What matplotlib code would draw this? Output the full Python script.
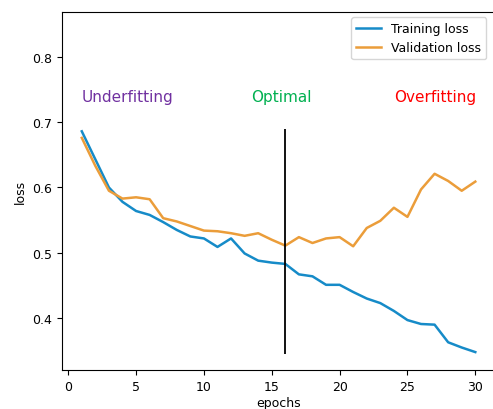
import numpy as np
from matplotlib import pyplot as plt

# epochs and losses
epochs = np.arange(1, 31)
train_loss = [0.686, 0.643, 0.600, 0.578, 0.564, 0.558, 0.547, 0.535, 0.525, 0.522,
              0.509, 0.522, 0.499, 0.488, 0.485, 0.483, 0.467, 0.464, 0.451, 0.451,
              0.440, 0.430, 0.423, 0.411, 0.397, 0.391, 0.390, 0.363, 0.355, 0.348]
val_loss = [0.676, 0.633, 0.595, 0.583, 0.585, 0.582, 0.553, 0.548, 0.541, 0.534,
            0.533, 0.530, 0.526, 0.530, 0.520, 0.511, 0.524, 0.515, 0.522, 0.524,
            0.510, 0.538, 0.549, 0.569, 0.555, 0.597, 0.621, 0.610, 0.595, 0.609]

best_epoch = 16
line_span = (0.345, 0.689)
regions = ["Underfitting", "Optimal", "Overfitting"]
region_x = [1, 13.45, 24.0]
region_y = 0.74
region_colors = ["#7030a0", "#00b050", "#ff0000"]

fig = plt.figure(figsize=(4.93, 4.10), dpi=100)
# right edge of the axes falls just outside the picture (cropped screenshot)
ax = fig.add_axes([0.126, 0.095, 0.878, 0.873])

ax.plot(epochs, train_loss, color="#168bc8", lw=1.8, label="Training loss")
ax.plot(epochs, val_loss, color="#eb9d3a", lw=1.8, label="Validation loss")
ax.vlines(best_epoch, line_span[0], line_span[1], color="black", lw=1.3)

for txt, x, c in zip(regions, region_x, region_colors):
    ax.text(x, region_y, txt, color=c, fontsize=11, va="center", ha="left")

ax.set_xlim(-0.45, 31.45)
ax.set_ylim(0.3205, 0.8685)
ax.set_xticks([0, 5, 10, 15, 20, 25, 30])
ax.set_yticks([0.4, 0.5, 0.6, 0.7, 0.8])
ax.tick_params(labelsize=9)
ax.set_xlabel("epochs", fontsize=9, labelpad=2)
ax.set_ylabel("loss", fontsize=9)
ax.legend(loc="upper right", fontsize=9, bbox_to_anchor=(486 / 493, 1 - 18 / 410),
          bbox_transform=fig.transFigure, borderaxespad=0)

plt.savefig("out.png", dpi=100)
